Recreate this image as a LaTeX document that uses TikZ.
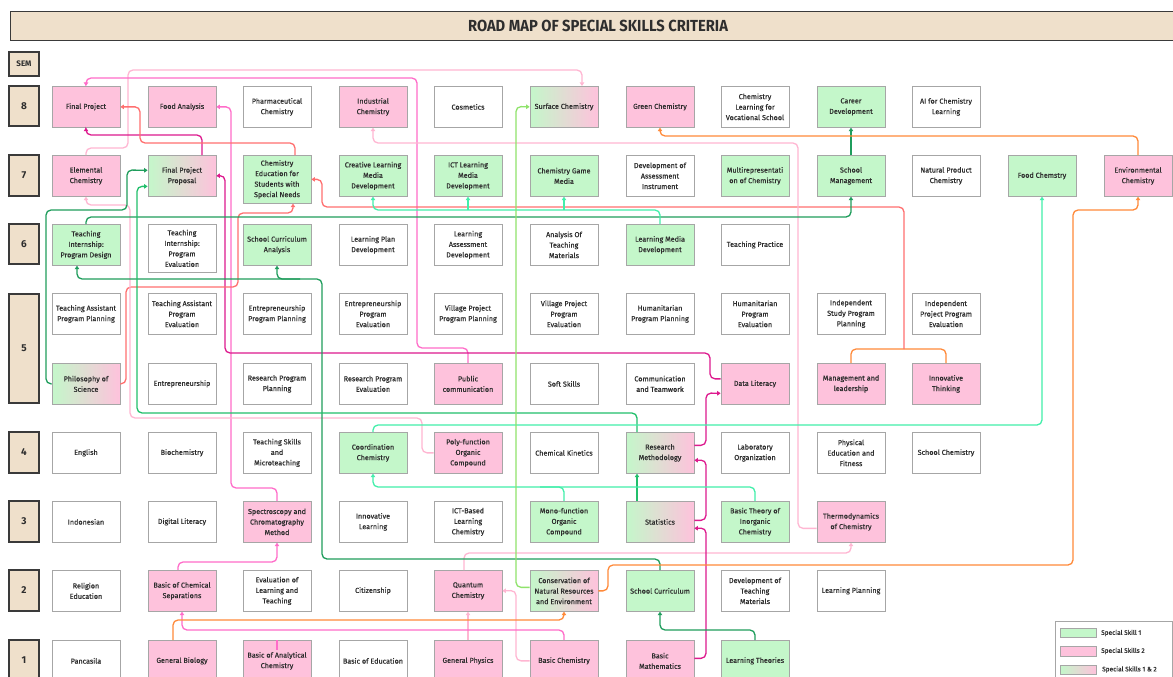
\documentclass[tikz,border=0pt]{standalone}
\usepackage{fontspec}
\setmainfont{Fira Sans}
\newfontfamily\courseFamily{Fira Sans}[FakeBold=0.5]
\usepackage{xcolor}
\usepackage{tikz}
\usetikzlibrary{arrows.meta}
\definecolor{beigeFill}{HTML}{EFE0CB}
\definecolor{greenFill}{HTML}{C4F7CA}
\definecolor{pinkFill}{HTML}{FEC2DC}
\definecolor{boxBorder}{HTML}{A6A6A6}
\definecolor{semBorder}{HTML}{3A3A3A}
\definecolor{textColor}{HTML}{2E2E2E}
\definecolor{darkGreenLine}{HTML}{1F9D5C}
\definecolor{midGreenLine}{HTML}{21BF6B}
\definecolor{mintLine}{HTML}{42EFAA}
\definecolor{limeLine}{HTML}{8FE36B}
\definecolor{magentaLine}{HTML}{DD1A8E}
\definecolor{pinkLine}{HTML}{FF6CC9}
\definecolor{lightPinkLine}{HTML}{FFB6D2}
\definecolor{salmonLine}{HTML}{FF6F6F}
\definecolor{orangeLine}{HTML}{FF8A3A}
\newcommand{\courseFont}{\courseFamily\fontsize{7.2}{10.5}\selectfont}
\tikzset{
  course/.style={draw=boxBorder, line width=0.7pt, minimum width=68pt, minimum height=41pt,
    anchor=north, align=center, inner sep=1pt, font=\courseFont, text=textColor},
  plainCourse/.style={course, fill=white},
  greenCourse/.style={course, fill=greenFill},
  pinkCourse/.style={course, fill=pinkFill},
  mixCourse/.style={course, left color=greenFill, right color=pinkFill},
  tallCourse/.style={minimum height=48pt},
  semBox/.style={draw=semBorder, fill=beigeFill, line width=1.1pt, minimum width=30pt,
    text=textColor, font=\bfseries\fontsize{10}{12}\selectfont},
  link/.style={line width=1.3pt, rounded corners=5pt, -{Triangle[length=3.5pt,width=4.4pt]}},
  joint/.style={line width=1.3pt, rounded corners=5pt},
}

\begin{document}
\begin{tikzpicture}[x=1pt, y=-1pt]
  \useasboundingbox (0,0) rectangle (1173,677);
  \fill[white] (0,0) rectangle (1173,677);

  % heading
  \node[semBox, anchor=north west, minimum width=1175pt, minimum height=29pt] (title) at (10,11)
    {\fontsize{16}{18}\selectfont\scalebox{0.92}[1]{ROAD MAP OF SPECIAL SKILLS CRITERIA}};
  \node[semBox, minimum height=24pt, font=\bfseries\fontsize{8}{10}\selectfont] (semHead) at (24,64) {SEM};
  \node[semBox, minimum height=40pt] (sem8) at (24,106) {8};
  \node[semBox, minimum height=41pt] (sem7) at (24,175.5) {7};
  \node[semBox, minimum height=40pt] (sem6) at (24,244) {6};
  \node[semBox, minimum height=109pt] (sem5) at (24,348.5) {5};
  \node[semBox, minimum height=41pt] (sem4) at (24,452.5) {4};
  \node[semBox, minimum height=41pt] (sem3) at (24,521.5) {3};
  \node[semBox, minimum height=41pt] (sem2) at (24,590.5) {2};
  \node[semBox, minimum height=41pt] (sem1) at (24,660.5) {1};

  % semester 8
  \node[pinkCourse]  (finalProject)   at (86,86)    {Final Project};
  \node[pinkCourse]  (foodAnalysis)   at (182,86)   {Food Analysis};
  \node[plainCourse] (pharmChem)      at (277,86)   {Pharmaceutical\\Chemistry};
  \node[pinkCourse]  (industrialChem) at (373,86)   {Industrial\\Chemistry};
  \node[plainCourse] (cosmetics)      at (468,86)   {Cosmetics};
  \node[mixCourse]   (surfaceChem)    at (564,86)   {Surface Chemistry};
  \node[pinkCourse]  (greenChem)      at (660,86)   {Green Chemistry};
  \node[plainCourse] (vocChem)        at (755,86)   {Chemistry\\Learning for\\Vocational School};
  \node[greenCourse] (careerDev)      at (851,86)   {Career\\Development};
  \node[plainCourse] (aiChem)         at (946,86)   {AI for Chemistry\\Learning};

  % semester 7
  \node[pinkCourse]  (elementalChem)   at (86,155)   {Elemental\\Chemistry};
  \node[mixCourse]   (projectProposal) at (182,155)  {Final Project\\Proposal};
  \node[greenCourse, tallCourse] (specialNeeds) at (277,155) {Chemistry\\Education for\\Students with\\Special Needs};
  \node[greenCourse] (creativeMedia)   at (373,155)  {Creative Learning\\Media\\Development};
  \node[greenCourse] (ictMedia)        at (468,155)  {ICT Learning\\Media\\Development};
  \node[greenCourse] (gameMedia)       at (564,155)  {Chemistry Game\\Media};
  \node[plainCourse] (assessInstr)     at (660,155)  {Development of\\Assessment\\Instrument};
  \node[greenCourse] (multiRep)        at (755,155)  {Multirepresentati\\on of Chemistry};
  \node[greenCourse] (schoolMgmt)      at (851,155)  {School\\Management};
  \node[plainCourse] (naturalProduct)  at (946,155)  {Natural Product\\Chemistry};
  \node[greenCourse] (foodChem)        at (1042,155) {Food Chemstry};
  \node[pinkCourse]  (envChem)         at (1138,155) {Environmental\\Chemistry};

  % semester 6
  \node[greenCourse] (internDesign)       at (86,224)  {Teaching\\Internship:\\Program Design};
  \node[plainCourse, tallCourse] (internEval) at (182,224) {Teaching\\Internship:\\Program\\Evaluation};
  \node[greenCourse] (curriculumAnalysis) at (277,224) {School Curriculum\\Analysis};
  \node[plainCourse] (planDev)            at (373,224) {Learning Plan\\Development};
  \node[plainCourse] (assessDev)          at (468,224) {Learning\\Assessment\\Development};
  \node[plainCourse] (materialsAnalysis)  at (564,224) {Analysis Of\\Teaching\\Materials};
  \node[greenCourse] (mediaDev)           at (660,224) {Learning Media\\Development};
  \node[plainCourse] (teachPractice)      at (755,224) {Teaching Practice};

  % semester 5
  \node[plainCourse] (assistPlan)  at (86,293)  {Teaching Assistant\\Program Planning};
  \node[plainCourse] (assistEval)  at (182,293) {Teaching Assistant\\Program\\Evaluation};
  \node[plainCourse] (entrePlan)   at (277,293) {Entrepreneurship\\Program Planning};
  \node[plainCourse] (entreEval)   at (373,293) {Entrepreneurship\\Program\\Evaluation};
  \node[plainCourse] (villagePlan) at (468,293) {Village Project\\Program Planning};
  \node[plainCourse] (villageEval) at (564,293) {Village Project\\Program\\Evaluation};
  \node[plainCourse] (humanPlan)   at (660,293) {Humanitarian\\Program Planning};
  \node[plainCourse] (humanEval)   at (755,293) {Humanitarian\\Program\\Evaluation};
  \node[plainCourse] (studyPlan)   at (851,293) {Independent\\Study Program\\Planning};
  \node[plainCourse] (projectEval) at (946,293) {Independent\\Project Program\\Evaluation};

  \node[mixCourse]   (philosophy)       at (86,363)  {Philosophy of\\Science};
  \node[plainCourse] (entrepreneurship) at (182,363) {Entrepreneurship};
  \node[plainCourse] (researchPlan)     at (277,363) {Research Program\\Planning};
  \node[plainCourse] (researchEval)     at (373,363) {Research Program\\Evaluation};
  \node[pinkCourse]  (publicComm)       at (468,363) {Public\\communication};
  \node[plainCourse] (softSkills)       at (564,363) {Soft Skills};
  \node[plainCourse] (teamwork)         at (660,363) {Communication\\and Teamwork};
  \node[pinkCourse]  (dataLiteracy)     at (755,363) {Data Literacy};
  \node[pinkCourse]  (leadership)       at (851,363) {Management and\\leadership};
  \node[pinkCourse]  (innovThinking)    at (946,363) {Innovative\\Thinking};

  % semester 4
  \node[plainCourse] (english)        at (86,432)  {English};
  \node[plainCourse] (biochem)        at (182,432) {Biochemistry};
  \node[plainCourse] (microteaching)  at (277,432) {Teaching Skills\\and\\Microteaching};
  \node[greenCourse] (coordChem)      at (373,432) {Coordination\\Chemistry};
  \node[pinkCourse]  (polyOrganic)    at (468,432) {Poly-function\\Organic\\Compound};
  \node[plainCourse] (kinetics)       at (564,432) {Chemical Kinetics};
  \node[mixCourse]   (researchMethod) at (660,432) {Research\\Methodology};
  \node[plainCourse] (labOrg)         at (755,432) {Laboratory\\Organization};
  \node[plainCourse] (physEd)         at (851,432) {Physical\\Education and\\Fitness};
  \node[plainCourse] (schoolChem)     at (946,432) {School Chemistry};

  % semester 3
  \node[plainCourse] (indonesian)    at (86,501)  {Indonesian};
  \node[plainCourse] (digitalLit)    at (182,501) {Digital Literacy};
  \node[pinkCourse]  (spectroscopy)  at (277,501) {Spectroscopy and\\Chromatography\\Method};
  \node[plainCourse] (innovLearning) at (373,501) {Innovative\\Learning};
  \node[plainCourse] (ictChem)       at (468,501) {ICT-Based\\Learning\\Chemistry};
  \node[greenCourse] (monoOrganic)   at (564,501) {Mono-function\\Organic\\Compound};
  \node[mixCourse]   (statistics)    at (660,501) {Statistics};
  \node[greenCourse] (inorganic)     at (755,501) {Basic Theory of\\Inorganic\\Chemistry};
  \node[pinkCourse]  (thermo)        at (851,501) {Thermodynamics\\of Chemistry};

  % semester 2
  \node[plainCourse] (religion)       at (86,570)  {Religion\\Education};
  \node[pinkCourse]  (separations)    at (182,570) {Basic of Chemical\\Separations};
  \node[plainCourse] (evalLearning)   at (277,570) {Evaluation of\\Learning and\\Teaching};
  \node[plainCourse] (citizenship)    at (373,570) {Citizenship};
  \node[pinkCourse]  (quantum)        at (468,570) {Quantum\\Chemistry};
  \node[mixCourse]   (conservation)   at (564,570) {Conservation of\\Natural Resources\\and Environment};
  \node[greenCourse] (schoolCurr)     at (660,570) {School Curriculum};
  \node[plainCourse] (teachMaterials) at (755,570) {Development of\\Teaching\\Materials};
  \node[plainCourse] (learnPlanning)  at (851,570) {Learning Planning};

  % semester 1
  \node[plainCourse] (pancasila)      at (86,640)  {Pancasila};
  \node[pinkCourse]  (genBiology)     at (182,640) {General Biology};
  \node[pinkCourse]  (analyticalChem) at (277,640) {Basic of Analytical\\Chemistry};
  \node[plainCourse] (basicEdu)       at (373,640) {Basic of Education};
  \node[pinkCourse]  (genPhysics)     at (468,640) {General Physics};
  \node[pinkCourse]  (basicChem)      at (564,640) {Basic Chemistry};
  \node[pinkCourse]  (basicMath)      at (660,640) {Basic\\Mathematics};
  \node[greenCourse] (learnTheories)  at (755,640) {Learning Theories};

  \coordinate (mediaBus) at (0,210);
  \coordinate (leaderJoin) at (904,349);
  \coordinate (curriculumJoin) at (300,279);

  % pink family
  \draw[link, lightPinkLine] (elementalChem.north) |- (128,148) |- (582,70) -- ([xshift=18pt]surfaceChem.north);
  \draw[link, pinkLine] (publicComm.north) |- (417,348) |- (86,78) -- (finalProject.north);
  \draw[link, pinkLine] (spectroscopy.north) |- (231,488) |- (foodAnalysis.east);
  \draw[link, magentaLine] ([yshift=5pt]dataLiteracy.west) -| (710,353) -| (225,175.5) -- (projectProposal.east);
  \draw[link, magentaLine] ([xshift=20pt]projectProposal.north) |- (86,135) -- (finalProject.south);
  \draw[link, salmonLine] ([xshift=18pt]specialNeeds.north) |- (140,143) |- (finalProject.east);
  \draw[joint, orangeLine] (leadership.north) -- ++(0,-14) -| (innovThinking.north);
  \draw[link, salmonLine] (leaderJoin) |- (322,207) |- (specialNeeds.east);
  \draw[link, salmonLine] (philosophy.east) -| (126,287) -| (238,213) -| ([xshift=16pt]specialNeeds.south);
  \draw[link, lightPinkLine] (polyOrganic.west) -| (422,418) -| (130,205) -| (elementalChem.south);
  \draw[link, lightPinkLine] ([yshift=-6.5pt]thermo.west) -| (798,143) -| (industrialChem.south);
  \draw[link, lightPinkLine] ([xshift=-4pt]quantum.north) |- (851,553) -- (thermo.south);
  \draw[link, lightPinkLine] (genPhysics.north) -- (quantum.south);
  \draw[link, lightPinkLine] (basicChem.west) -| (516,590.5) -- (quantum.east);
  \draw[link, pinkLine] (basicChem.north) |- (182,630) -- (separations.south);
  \draw[joint, pinkLine] (analyticalChem.north) -- ++(0,10);
  \draw[link, pinkLine] ([xshift=-4pt]separations.north) |- (277,562) -- (spectroscopy.south);
  \draw[link, magentaLine] ([yshift=7.5pt]researchMethod.east) -| (706,393) -- ([yshift=-9.5pt]dataLiteracy.west);
  \draw[link, magentaLine] ([yshift=1.5pt]statistics.east) -| (706,460) -- ([yshift=-7.5pt]researchMethod.east);
  \draw[link, magentaLine] ([yshift=2.5pt]basicMath.east) -| (706,528) -- ([yshift=-6.5pt]statistics.east);

  % green family
  \draw[link, darkGreenLine] (philosophy.west) -| (46,210) -| (127,170) -- ([yshift=5.5pt]projectProposal.west);
  \draw[link, darkGreenLine] (internDesign.north) |- (851,217) -- (schoolMgmt.south);
  \draw[link, darkGreenLine] (schoolMgmt.north) -- (careerDev.south);
  \draw[link, darkGreenLine] (schoolCurr.north) |- (322,559) |- (77,279) -- ([xshift=-9pt]internDesign.south);
  \draw[link, darkGreenLine] (curriculumJoin) -| (curriculumAnalysis.south);
  \draw[link, darkGreenLine] (learnTheories.north) |- (660,630) -- (schoolCurr.south);
  \draw[link, midGreenLine] ([xshift=-23pt]researchMethod.north) |- (137,413) |- ([yshift=-10.5pt]projectProposal.west);
  \draw[link, midGreenLine] ([xshift=-23pt]statistics.north) -- ([xshift=-23pt]researchMethod.south);
  \draw[link, mintLine] (mediaDev.north) |- (373,210) -- (creativeMedia.south);
  \draw[link, mintLine] (ictMedia.south |- mediaBus) -- (ictMedia.south);
  \draw[link, mintLine] (gameMedia.south |- mediaBus) -- (gameMedia.south);
  \draw[link, mintLine] (coordChem.north) |- (1042,425) -- (foodChem.south);
  \draw[link, mintLine] (inorganic.north) |- (373,487) -- (coordChem.south);
  \draw[joint, mintLine] (monoOrganic.north) |- (540,487);
  \draw[link, limeLine] ([yshift=3.5pt]conservation.west) -| (516,106.5) -- (surfaceChem.west);

  % orange family
  \draw[link, orangeLine] (conservation.east) -| (608,565) -| (1073,210) -| (envChem.south);
  \draw[link, orangeLine] (envChem.north) |- (660,136) -- (greenChem.south);
  \draw[link, orangeLine] ([xshift=-9pt]genBiology.north) |- (564,620) -- (conservation.south);

  % legend
  \node[draw=boxBorder, fill=white, line width=0.7pt, anchor=north west, minimum width=117pt, minimum height=70pt] (legendBox) at (1055,621) {};
  \node[draw=boxBorder, fill=greenFill, anchor=north west, minimum width=36pt, minimum height=9pt, inner sep=0pt] (keyOne) at (1060,628) {};
  \node[draw=boxBorder, fill=pinkFill, anchor=north west, minimum width=36pt, minimum height=10pt, inner sep=0pt] (keyTwo) at (1060,646) {};
  \node[draw=boxBorder, left color=greenFill, right color=pinkFill, anchor=north west, minimum width=36pt, minimum height=9pt, inner sep=0pt] (keyBoth) at (1060,665) {};
  \node[anchor=west, font=\courseFamily\fontsize{6.5}{8}\selectfont, text=textColor, inner sep=0pt] (keyOneText) at (1101,633) {Special Skill 1};
  \node[anchor=west, font=\courseFamily\fontsize{6.5}{8}\selectfont, text=textColor, inner sep=0pt] (keyTwoText) at (1101,651) {Special Skills 2};
  \node[anchor=west, font=\courseFamily\fontsize{6.5}{8}\selectfont, text=textColor, inner sep=0pt] (keyBothText) at (1102,669.5) {Special Skills 1 \& 2};
\end{tikzpicture}
\end{document}
